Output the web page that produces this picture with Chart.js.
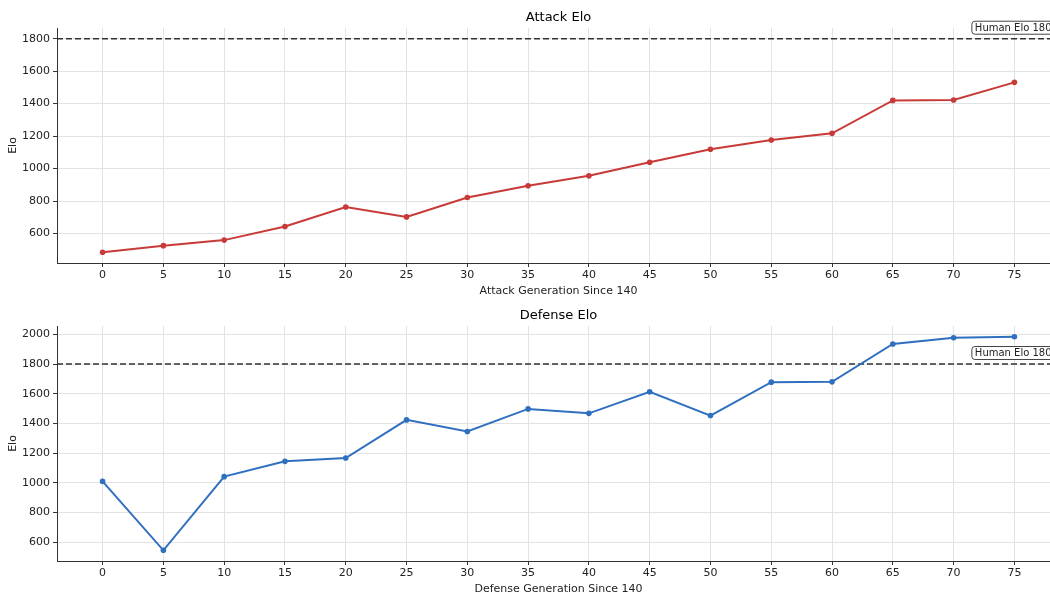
<!DOCTYPE html>
<html>
<head>
<meta charset="utf-8">
<script src="https://cdn.jsdelivr.net/npm/chart.js@4.4.0/dist/chart.umd.min.js"></script>
<style>
  html, body { margin: 0; padding: 0; background: #fff; }
  #wrap { width: 1050px; height: 594px; overflow: hidden; position: relative; }
  .box { position: absolute; left: 0; width: 1117px; height: 298px; }
  #b1 { top: 0; }
  #b2 { top: 298px; }
</style>
</head>
<body>
<div id="wrap">
  <div class="box" id="b1"><canvas id="attackChart"></canvas></div>
  <div class="box" id="b2"><canvas id="defenseChart"></canvas></div>
</div>
<script>
// Generations (x values)
const generations = [0, 5, 10, 15, 20, 25, 30, 35, 40, 45, 50, 55, 60, 65, 70, 75];

// Elo values
const attackElo = [484, 525, 559, 643, 763, 702, 822, 894, 955, 1039, 1119, 1176, 1217, 1420, 1422, 1531];
const defenseElo = [1010, 546, 1042, 1145, 1167, 1424, 1346, 1498, 1468, 1613, 1453, 1678, 1680, 1935, 1977, 1984];

// Reference line
const humanElo = 1800;
const humanLabel = "Human Elo 1800";

// Tick labels
const xTicks = [0, 5, 10, 15, 20, 25, 30, 35, 40, 45, 50, 55, 60, 65, 70, 75];
const attackYTicks = [600, 800, 1000, 1200, 1400, 1600, 1800];
const defenseYTicks = [600, 800, 1000, 1200, 1400, 1600, 1800, 2000];

const FONT = "'DejaVu Sans', sans-serif";
const X_MIN = -3.75, X_MAX = 78.75;

// Title centred over the plot area (like matplotlib), plus the boxed
// "Human Elo 1800" label just above the dashed line
const extrasPlugin = {
  id: "extras",
  afterDraw(chart) {
    const { ctx, scales, chartArea } = chart;
    ctx.save();
    ctx.font = "13px " + FONT;
    ctx.fillStyle = "#000";
    ctx.textAlign = "center";
    ctx.textBaseline = "middle";
    ctx.fillText(chart.options.plugins.extras.title, (chartArea.left + chartArea.right) / 2, 17.5);

    const x = scales.x.getPixelForValue(71.5);
    const y = scales.y.getPixelForValue(humanElo) - 11;
    ctx.font = "10px " + FONT;
    ctx.textAlign = "left";
    const w = ctx.measureText(humanLabel).width + 6;
    const h = 13;
    ctx.beginPath();
    ctx.roundRect(x, y - h / 2, w, h, 3);
    ctx.fillStyle = "#fff";
    ctx.fill();
    ctx.strokeStyle = "#444";
    ctx.lineWidth = 1;
    ctx.stroke();
    ctx.fillStyle = "#222";
    ctx.fillText(humanLabel, x + 3, y + 0.5);
    ctx.restore();
  }
};

function makeChart(id, title, xTitle, values, color, yTicks, yMin, yMax) {
  const ctx = document.getElementById(id).getContext("2d");
  return new Chart(ctx, {
    type: "line",
    data: {
      datasets: [
        {
          data: generations.map((g, i) => ({ x: g, y: values[i] })),
          borderColor: color,
          backgroundColor: color,
          borderWidth: 2,
          pointRadius: 2.8,
          pointHoverRadius: 2.8,
          pointBorderWidth: 0,
          tension: 0
        },
        {
          data: [{ x: X_MIN, y: humanElo }, { x: X_MAX, y: humanElo }],
          borderColor: "#333",
          borderWidth: 1.5,
          borderDash: [6, 3],
          pointRadius: 0
        }
      ]
    },
    options: {
      responsive: true,
      maintainAspectRatio: false,
      animation: false,
      layout: { padding: { left: 0, right: 57, top: 28, bottom: 0 } },
      plugins: {
        legend: { display: false },
        tooltip: { enabled: false },
        title: { display: false },
        extras: { title: title }
      },
      scales: {
        x: {
          type: "linear",
          min: X_MIN,
          max: X_MAX,
          afterBuildTicks: s => { s.ticks = xTicks.map(v => ({ value: v })); },
          afterFit: s => { s.height = 35; },
          grid: { color: "#e3e3e3", lineWidth: 1, tickColor: "#333", tickLength: 4 },
          border: { color: "#333", width: 1 },
          ticks: { color: "#222", font: { family: FONT, size: 11 }, padding: 2, maxRotation: 0, callback: v => String(v) },
          title: {
            display: true,
            text: xTitle,
            color: "#222",
            font: { family: FONT, size: 11 },
            padding: { top: 0, bottom: 0 }
          }
        },
        y: {
          min: yMin,
          max: yMax,
          afterBuildTicks: s => { s.ticks = yTicks.map(v => ({ value: v })); },
          afterFit: s => { s.width = 57; },
          grid: { color: "#e3e3e3", lineWidth: 1, tickColor: "#333", tickLength: 4 },
          border: { color: "#333", width: 1 },
          ticks: { color: "#222", font: { family: FONT, size: 11 }, padding: 3, callback: v => String(v) },
          title: {
            display: true,
            text: "Elo",
            color: "#222",
            font: { family: FONT, size: 11 },
            padding: { top: 7, bottom: 0 }
          }
        }
      }
    },
    plugins: [extrasPlugin]
  });
}

makeChart("attackChart", "Attack Elo", "Attack Generation Since 140", attackElo, "#c83a38", attackYTicks, 418, 1866);
makeChart("defenseChart", "Defense Elo", "Defense Generation Since 140", defenseElo, "#2f6fbf", defenseYTicks, 474, 2056);
</script>
</body>
</html>
